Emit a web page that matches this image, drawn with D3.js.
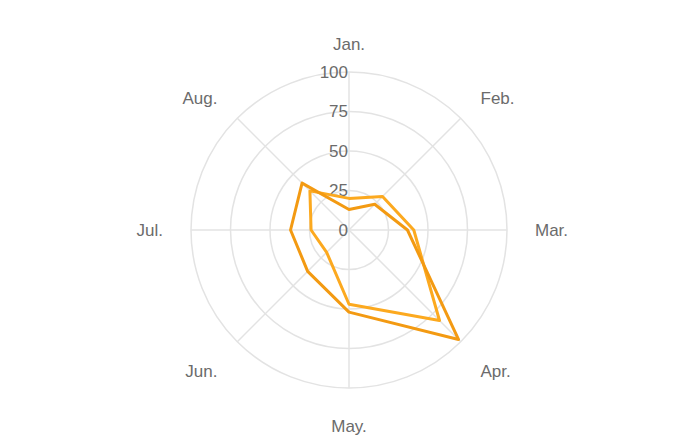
<!DOCTYPE html>
<html>
<head>
<meta charset="utf-8">
<script src="https://cdn.jsdelivr.net/npm/d3@7"></script>
<style>
  html, body { margin: 0; padding: 0; background: #fff; }
  text { font-family: "Helvetica Neue", Helvetica, "Liberation Sans", Arial, sans-serif; }
</style>
</head>
<body>
<div id="chart"></div>
<script>
const months = ["Jan.", "Feb.", "Mar.", "Apr.", "May.", "Jun.", "Jul.", "Aug."];
const seriesA = [13, 23, 37, 98, 52, 37, 37, 42];
const seriesB = [20, 30, 41, 81, 47, 20, 24, 35];
const ticks = [0, 25, 50, 75, 100];

const width = 698, height = 448;
const cx = 349, cy = 230, radius = 158;

const svg = d3.select("#chart")
  .append("svg")
  .attr("width", width)
  .attr("height", height);

const g = svg.append("g").attr("transform", `translate(${cx},${cy})`);

// Scales
const angle = d3.scalePoint().domain(months).range([0, 2 * Math.PI * (months.length - 1) / months.length]);
const r = d3.scaleLinear().domain([0, 100]).range([0, radius]);

// Grid circles
g.selectAll("circle.grid")
  .data(ticks.filter(d => d > 0))
  .enter()
  .append("circle")
  .attr("class", "grid")
  .attr("r", d => r(d))
  .attr("fill", "none")
  .attr("stroke", "#e3e3e3")
  .attr("stroke-width", 1.5);

// Spokes
g.selectAll("line.spoke")
  .data(months)
  .enter()
  .append("line")
  .attr("x1", 0)
  .attr("y1", 0)
  .attr("x2", d => r(100) * Math.sin(angle(d)))
  .attr("y2", d => -r(100) * Math.cos(angle(d)))
  .attr("stroke", "#e3e3e3")
  .attr("stroke-width", 1.5);

// Tick labels on the vertical axis
g.selectAll("text.tick")
  .data(ticks)
  .enter()
  .append("text")
  .attr("x", -1)
  .attr("y", d => -r(d))
  .attr("dy", "0.35em")
  .attr("text-anchor", "end")
  .attr("fill", "#6b6b6b")
  .style("font-size", "17px")
  .text(d => d);

// Month labels (bottom half sits a bit lower)
const labelR = 186;
g.selectAll("text.month")
  .data(months)
  .enter()
  .append("text")
  .attr("x", d => labelR * Math.sin(angle(d)))
  .attr("y", d => {
    const c = Math.cos(angle(d));
    return -labelR * c + (c < -0.01 ? 10 : 0);
  })
  .attr("dy", "0.35em")
  .attr("text-anchor", d => {
    const s = Math.sin(angle(d));
    return Math.abs(s) < 0.01 ? "middle" : (s > 0 ? "start" : "end");
  })
  .attr("fill", "#6b6b6b")
  .style("font-size", "17px")
  .text(d => d);

// Series
const line = d3.lineRadial()
  .angle((d, i) => angle(months[i]))
  .radius(d => r(d))
  .curve(d3.curveLinearClosed);

g.append("path")
  .datum(seriesB)
  .attr("d", line)
  .attr("fill", "none")
  .attr("stroke", "#fca91f")
  .attr("stroke-width", 3)
  .attr("stroke-linejoin", "round");

g.append("path")
  .datum(seriesA)
  .attr("d", line)
  .attr("fill", "none")
  .attr("stroke", "#f39a12")
  .attr("stroke-width", 3)
  .attr("stroke-linejoin", "round");
</script>
</body>
</html>
